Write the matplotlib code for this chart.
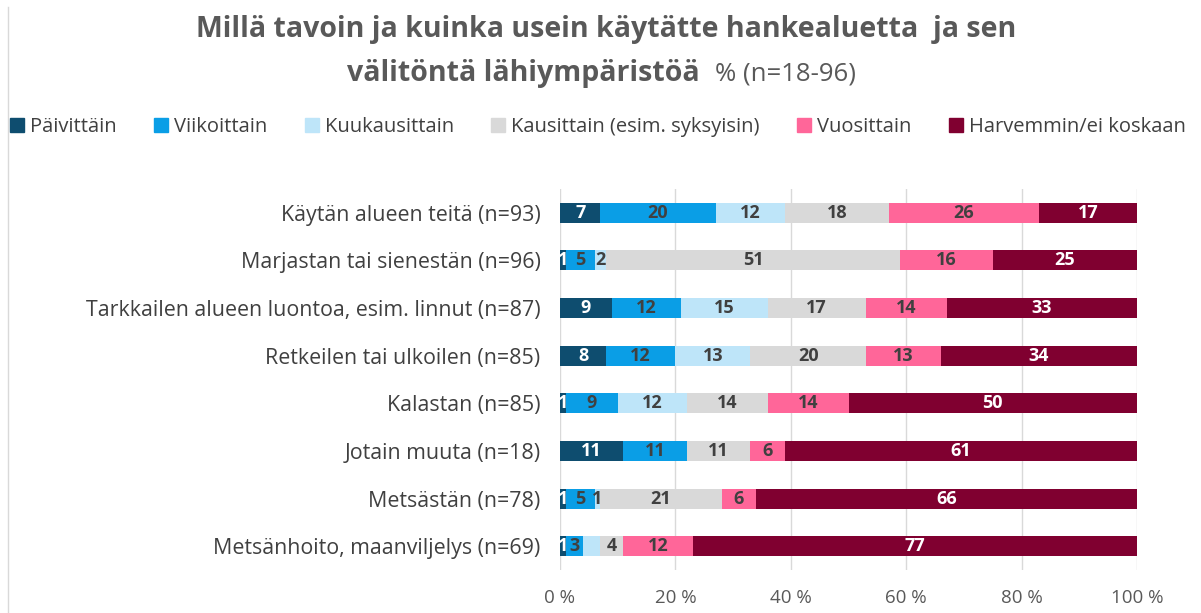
import matplotlib
matplotlib.use("Agg")
import matplotlib.pyplot as plt
from matplotlib.patches import Rectangle
from matplotlib.lines import Line2D

plt.rcParams['font.family'] = ['Open Sans', 'DejaVu Sans']

categories = [
    "Käytän alueen teitä (n=93)",
    "Marjastan tai sienestän (n=96)",
    "Tarkkailen alueen luontoa, esim. linnut (n=87)",
    "Retkeilen tai ulkoilen (n=85)",
    "Kalastan (n=85)",
    "Jotain muuta (n=18)",
    "Metsästän (n=78)",
    "Metsänhoito, maanviljelys (n=69)",
]
series_names = ["Päivittäin", "Viikoittain", "Kuukausittain",
                "Kausittain (esim. syksyisin)", "Vuosittain", "Harvemmin/ei koskaan"]
paivittain    = [7, 1, 9, 8, 1, 11, 1, 1]
viikoittain   = [20, 5, 12, 12, 9, 11, 5, 3]
kuukausittain = [12, 2, 15, 13, 12, 0, 1, 3]
kausittain    = [18, 51, 17, 20, 14, 11, 21, 4]
vuosittain    = [26, 16, 14, 13, 14, 6, 6, 12]
harvemmin     = [17, 25, 33, 34, 50, 61, 66, 77]
series = [paivittain, viikoittain, kuukausittain, kausittain, vuosittain, harvemmin]
# labels not shown in the original (series index, row index)
hidden_labels = {(2, 7)}
xticks = [0, 20, 40, 60, 80, 100]
xtick_labels = ["0 %", "20 %", "40 %", "60 %", "80 %", "100 %"]

colors = ["#0E4D6F", "#0A9EE6", "#BEE5F9", "#D9D9D9", "#FF6699", "#800030"]
label_colors = ["white", "#404040", "#404040", "#404040", "#404040", "white"]

W, H = 1201, 613
fig = plt.figure(figsize=(W / 100, H / 100), dpi=100)
ax = fig.add_axes([560 / W, 1 - 570 / H, 577 / W, 381 / H])

ypos = list(range(len(categories)))
left = [0] * len(categories)
for si, (vals, c) in enumerate(zip(series, colors)):
    ax.barh(ypos, vals, left=left, height=0.42, color=c, label=series_names[si], zorder=3)
    for ri, v in enumerate(vals):
        if v > 0 and (si, ri) not in hidden_labels:
            ax.text(left[ri] + v / 2, ri, str(v), ha='center', va='center',
                    fontsize=13, fontweight='bold', color=label_colors[si], zorder=4)
    left = [l + v for l, v in zip(left, vals)]

ax.set_xlim(0, 100)
ax.set_ylim(len(categories) - 0.5, -0.5)
ax.set_yticks(ypos)
ax.set_yticklabels(categories, fontsize=15.4, color="#404040")
ax.set_xticks(xticks)
ax.set_xticklabels(xtick_labels, fontsize=13.5, color="#595959")
ax.tick_params(axis='both', length=0)
ax.tick_params(axis='y', pad=14)
ax.tick_params(axis='x', pad=14)
ax.grid(axis='x', color="#D9D9D9", linewidth=1, zorder=0)
for s in ax.spines.values():
    s.set_visible(False)

# Title
fig.text(606 / W, 1 - 30 / H, "Millä tavoin ja kuinka usein käytätte hankealuetta  ja sen",
         ha='center', va='center', fontsize=20.5, fontweight='bold', color="#595959")
fig.text(700 / W, 1 - 73 / H, "välitöntä lähiympäristöä",
         ha='right', va='center', fontsize=20.5, fontweight='bold', color="#595959")
fig.text(715 / W, 1 - 74 / H, "% (n=18-96)",
         ha='left', va='center', fontsize=18.5, color="#595959")

# Legend
handles = [Rectangle((0, 0), 1, 1, color=c) for c in colors]
leg = fig.legend(handles, series_names, loc='center', ncol=6,
                 bbox_to_anchor=(598 / W, 1 - 127 / H), frameon=False,
                 fontsize=14.5, handlelength=0.7, handleheight=0.7,
                 handletextpad=0.3, columnspacing=1.85)
for t in leg.get_texts():
    t.set_color("#404040")

# Chart border (left edge)
fig.add_artist(Line2D([8 / W, 8 / W], [0, 1 - 7 / H], transform=fig.transFigure,
                      color="#D9D9D9", linewidth=1))

fig.savefig("out.png", dpi=100)
